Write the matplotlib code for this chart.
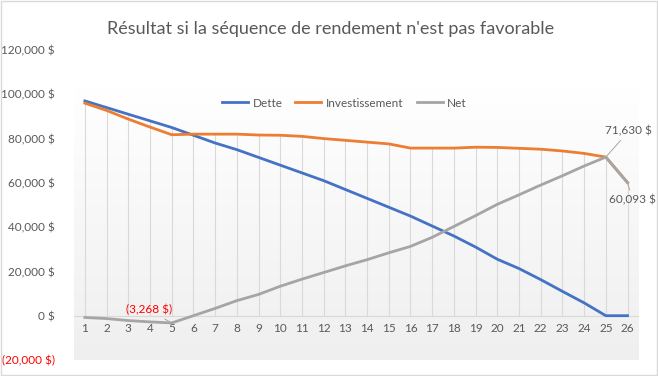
import numpy as np
import matplotlib
matplotlib.use("Agg")
import matplotlib.pyplot as plt
from matplotlib.ticker import FuncFormatter
from matplotlib.patches import Rectangle
from matplotlib.colors import LinearSegmentedColormap

plt.rcParams["font.family"] = ["Lato", "DejaVu Sans"]

# ── données ──
annees = list(range(1, 27))
dette = [97000, 94000, 91000, 88000, 85000, 81500, 78000, 75000, 71500, 68000,
         64500, 61000, 57000, 53000, 49000, 45000, 40500, 36000, 31000, 25500,
         21300, 16300, 11000, 5800, 0, 0]
investissement = [96000, 92700, 88800, 85200, 81732, 82000, 82000, 82000, 81600, 81500,
                  81000, 80000, 79200, 78400, 77600, 75700, 75700, 75700, 76100, 76000,
                  75600, 75200, 74400, 73300, 71630, 60093]
net = [-800, -1300, -2200, -2800, -3268, 0, 3300, 6800, 9600, 13300,
       16500, 19500, 22500, 25300, 28400, 31300, 35400, 40300, 45200, 50300,
       54600, 59000, 63200, 67600, 71630, 60093]

y_ticks = [-20000, 0, 20000, 40000, 60000, 80000, 100000, 120000]

GRIS_TXT = "#595959"
C_DETTE, C_INV, C_NET = "#4472C4", "#ED7D31", "#A5A5A5"

fig = plt.figure(figsize=(6.58, 3.76), dpi=100)
ax = fig.add_axes([0.1125, 0.0426, 0.8577, 0.8244])

ax.set_xlim(0.5, 26.5)
ax.set_ylim(-20000, 120000)

# fond dégradé de la zone de traçage
grad = np.linspace(0, 1, 256).reshape(-1, 1)
cmap = LinearSegmentedColormap.from_list("fond", ["#ffffff", "#efefef"])
ax.imshow(grad, extent=(0.5, 26.5, -20000, 103000), aspect="auto",
          cmap=cmap, zorder=0, origin="upper")

# lignes de projection
tops = [max(a, b, c) for a, b, c in zip(dette, investissement, net)]
ax.vlines(annees, 0, tops, color="#d9d9d9", lw=0.8, zorder=1)

ax.plot(annees, dette, color=C_DETTE, lw=2, label="Dette", zorder=3)
ax.plot(annees, investissement, color=C_INV, lw=2, label="Investissement", zorder=3)
ax.plot(annees, net, color=C_NET, lw=2, label="Net", zorder=4)

# étiquettes de données
def etiq(i, dx, dy, txt, col):
    ax.annotate(txt, xy=(annees[i], net[i]), xytext=(dx, dy), textcoords="offset pixels",
                ha="center", va="center", fontsize=8.5, color=col, zorder=5,
                arrowprops=dict(arrowstyle="-", color="#a6a6a6", lw=0.7,
                                shrinkA=1, shrinkB=0))

etiq(24, 23, 26, "71,630 $", GRIS_TXT)
etiq(25, 5, -17, "60,093 $", GRIS_TXT)
etiq(4, -23, 13, "(3,268 $)", "#FF0000")

# axes
for s in ["top", "right", "left"]:
    ax.spines[s].set_visible(False)
ax.spines["bottom"].set_position(("data", 0))
ax.spines["bottom"].set_color("#d9d9d9")
ax.set_xticks(annees)
ax.tick_params(axis="x", length=0, pad=5, labelsize=8.5, labelcolor=GRIS_TXT)
ax.set_yticks(y_ticks)
ax.yaxis.set_major_formatter(FuncFormatter(
    lambda v, p: f"({abs(v):,.0f} $)" if v < 0 else f"{v:,.0f} $"))
ax.tick_params(axis="y", length=0, pad=14, labelsize=8.5, labelcolor=GRIS_TXT)
for lab, v in zip(ax.get_yticklabels(), y_ticks):
    if v < 0:
        lab.set_color("#FF0000")

ax.legend(loc="center", bbox_to_anchor=(0.479, 0.829), ncol=3, frameon=False,
          fontsize=8.5, labelcolor=GRIS_TXT, handlelength=2.2, columnspacing=1.1,
          handletextpad=0.4)

fig.suptitle("Résultat si la séquence de rendement n'est pas favorable",
             x=0.502, y=0.945, fontsize=13, color=GRIS_TXT)

fig.patches.append(Rectangle((0.002, 0.003), 0.996, 0.994, transform=fig.transFigure,
                             fill=False, edgecolor="#d9d9d9", lw=1))

fig.savefig("out.png", dpi=100)
